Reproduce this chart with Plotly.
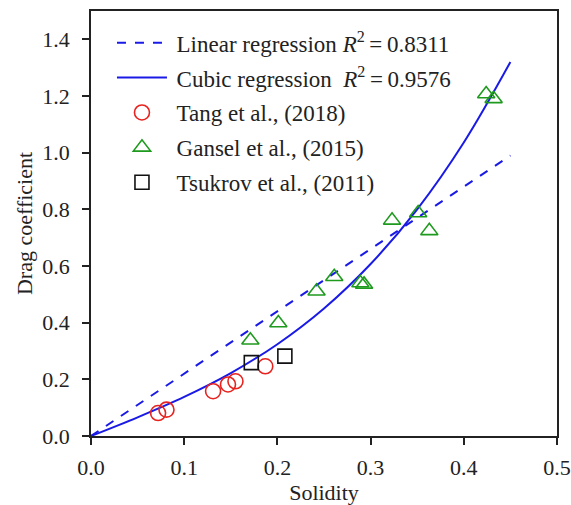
import plotly.graph_objects as go

# Data
tang_x = [0.072, 0.081, 0.131, 0.147, 0.155, 0.187]
tang_y = [0.081, 0.093, 0.158, 0.182, 0.193, 0.246]

gansel_x = [0.171, 0.201, 0.242, 0.261, 0.289, 0.293, 0.323, 0.351, 0.363, 0.424, 0.432]
gansel_y = [0.338, 0.399, 0.511, 0.562, 0.540, 0.535, 0.761, 0.787, 0.724, 1.207, 1.190]

tsukrov_x = [0.172, 0.208]
tsukrov_y = [0.259, 0.282]

linear_x = [0.0, 0.45]
linear_y = [0.0, 0.99]

cubic_x = [0.0, 0.05, 0.10, 0.15, 0.20, 0.25, 0.30, 0.35, 0.40, 0.45]
cubic_y = [0.0, 0.066, 0.138, 0.222, 0.324, 0.450, 0.607, 0.800, 1.036, 1.320]

x_ticks = [0.0, 0.1, 0.2, 0.3, 0.4, 0.5]
y_ticks = [0.0, 0.2, 0.4, 0.6, 0.8, 1.0, 1.2, 1.4]

FONT = "Liberation Serif, Times New Roman, serif"
SP = "\u2009"

fig = go.Figure()
fig.add_trace(go.Scatter(x=linear_x, y=linear_y, mode="lines",
                         line=dict(color="#1a1ae6", width=2, dash="dash"),
                         name=SP + "Linear regression <i>R</i><sup>2</sup>\u2009=\u20090.8311",
                         legendgroup="a"))
fig.add_trace(go.Scatter(x=cubic_x, y=cubic_y, mode="lines", line_shape="spline",
                         line=dict(color="#1a1ae6", width=2),
                         name=SP + "Cubic regression  <i>R</i><sup>2</sup>\u2009=\u20090.9576",
                         legendgroup="b"))
fig.add_trace(go.Scatter(x=tang_x, y=tang_y, mode="markers",
                         marker=dict(symbol="circle-open", size=15, color="#e8231f",
                                     line=dict(width=1.6)),
                         name=SP + "Tang et al., (2018)", legendgroup="c"))
fig.add_trace(go.Scatter(x=gansel_x, y=gansel_y, mode="markers",
                         marker=dict(symbol="triangle-up-open", size=15, color="#1e9a1e",
                                     line=dict(width=1.6)),
                         name=SP + "Gansel et al., (2015)", legendgroup="d"))
fig.add_trace(go.Scatter(x=tsukrov_x, y=tsukrov_y, mode="markers",
                         marker=dict(symbol="square-open", size=14, color="#111111",
                                     line=dict(width=1.6)),
                         name=SP + "Tsukrov et al., (2011)", legendgroup="e"))

fig.update_layout(
    width=571, height=505,
    margin=dict(l=91, r=14, t=11, b=69),
    paper_bgcolor="white", plot_bgcolor="white",
    font=dict(family=FONT, size=22, color="#222"),
    showlegend=True,
    legend=dict(x=0.045, y=0.976, xanchor="left", yanchor="top",
                bgcolor="rgba(0,0,0,0)", font=dict(size=23, family=FONT),
                tracegroupgap=2, itemwidth=50),
)
fig.update_xaxes(range=[0, 0.5], tickvals=x_ticks, ticktext=[f"{v:.1f}" for v in x_ticks],
                 ticks="outside", ticklen=7, tickwidth=1.5, tickcolor="#222",
                 ticklabelstandoff=4, automargin=False,
                 showline=True, linecolor="#222", linewidth=1.5, mirror=True,
                 showgrid=False, zeroline=False,
                 title=dict(text="Solidity", font=dict(size=22)),
                 tickfont=dict(size=22))
fig.update_yaxes(range=[0, 1.5], tickvals=y_ticks, ticktext=[f"{v:.1f}" for v in y_ticks],
                 ticks="outside", ticklen=7, tickwidth=1.5, tickcolor="#222",
                 ticklabelstandoff=8, automargin=False,
                 showline=True, linecolor="#222", linewidth=1.5, mirror=True,
                 showgrid=False, zeroline=False,
                 title=dict(text="Drag coefficient", font=dict(size=22), standoff=4),
                 tickfont=dict(size=22))

fig.write_html("out.html", config={"displayModeBar": False},
               post_script="document.body.style.margin='0';document.body.style.padding='0';document.body.style.overflow='hidden';")
